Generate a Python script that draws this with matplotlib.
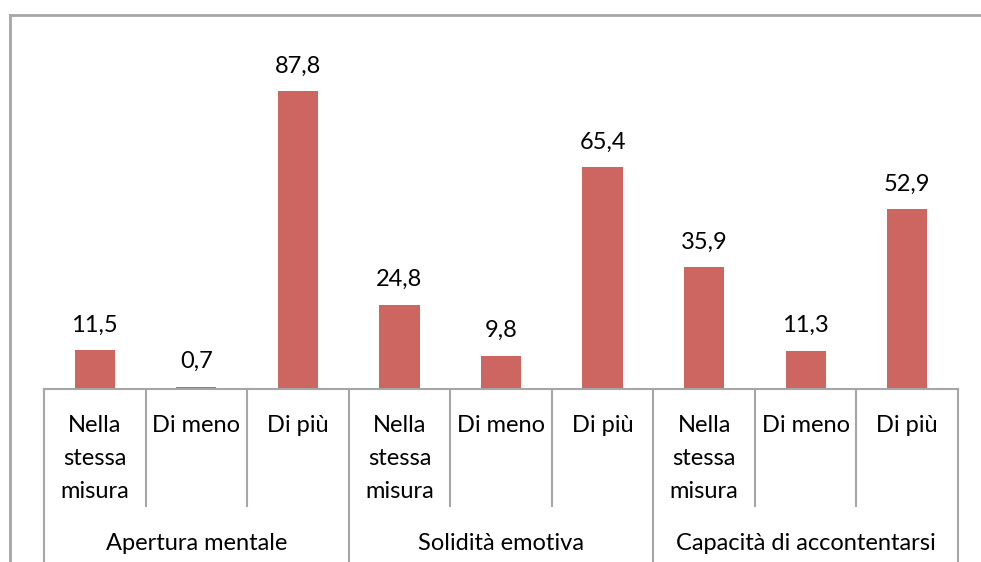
import matplotlib
matplotlib.use("Agg")
import matplotlib.pyplot as plt
from matplotlib.transforms import blended_transform_factory
from matplotlib.lines import Line2D

groups = ["Apertura mentale", "Solidità emotiva", "Capacità di accontentarsi"]
subcats = ["Nella\nstessa\nmisura", "Di meno", "Di più"]
values = [11.5, 0.7, 87.8, 24.8, 9.8, 65.4, 35.9, 11.3, 52.9]
value_labels = ["11,5", "0,7", "87,8", "24,8", "9,8", "65,4", "35,9", "11,3", "52,9"]

W, H = 981, 562
fig = plt.figure(figsize=(W / 100, H / 100), dpi=100)
plt.rcParams['font.family'] = ['Lato', 'DejaVu Sans']
FS = 17

left, right, bottom, top = 44, 958, 389, 49.6
ax = fig.add_axes([left / W, 1 - bottom / H, (right - left) / W, (bottom - top) / H])
ax.set_xlim(-0.5, len(values) - 0.5)
ax.set_ylim(0, 100)
ax.axis("off")

bar_color = "#CD6660"
grid_color = "#A6A6A6"
x = list(range(len(values)))
bars = ax.bar(x, values, width=0.395, color=bar_color)
for xi, v, lab in zip(x, values, value_labels):
    ax.annotate(lab, (xi, v), xytext=(0, 18), textcoords="offset points",
                ha="center", va="center", fontsize=FS, color="#000000")

# baseline
ax.plot([-0.5, len(values) - 0.5], [0, 0], color=grid_color, lw=1.5, clip_on=False)

tr = blended_transform_factory(ax.transData, fig.transFigure)
def fy(px):
    return 1 - px / H

for i in range(len(values) + 1):
    xb = i - 0.5
    if i % 3 == 0:
        y_end = H + 5
    else:
        y_end = 506
    fig.add_artist(Line2D([xb, xb], [fy(389), fy(y_end)], transform=tr,
                          color=grid_color, lw=1.5))

for i, xi in enumerate(x):
    lab = subcats[i % 3]
    ax.text(xi, fy(415), lab, transform=tr, ha="center", va="top",
            fontsize=FS, linespacing=1.72, multialignment="center")

for g, name in enumerate(groups):
    ax.text(3 * g + 1, fy(543), name, transform=tr, ha="center", va="center",
            fontsize=FS)

# outer chart border
fig.add_artist(Line2D([10 / W, 1.0], [fy(15), fy(15)], transform=fig.transFigure,
                      color=grid_color, lw=2))
fig.add_artist(Line2D([10 / W, 10 / W], [fy(15), 0], transform=fig.transFigure,
                      color=grid_color, lw=2))

fig.savefig("out.png", dpi=100)
